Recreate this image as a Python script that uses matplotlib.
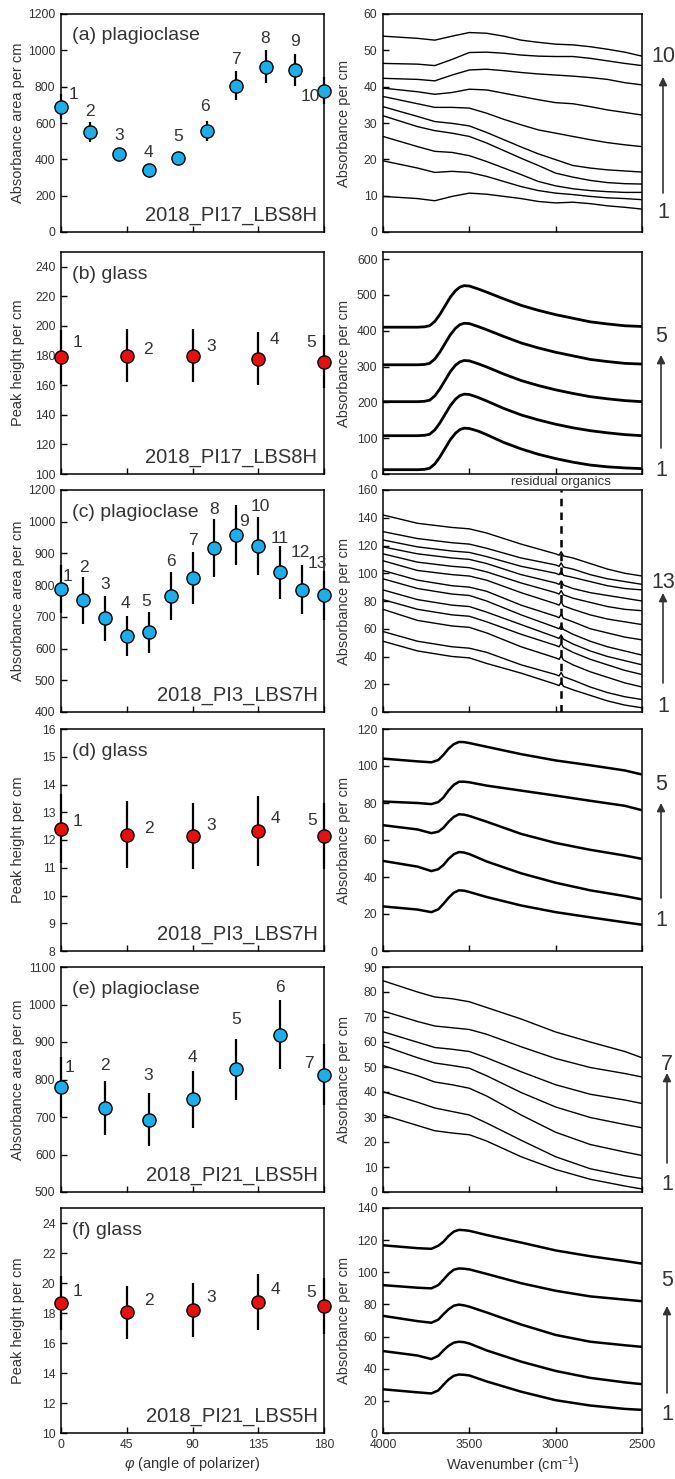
import matplotlib
matplotlib.use('Agg')
import matplotlib.pyplot as plt

plt.rcParams['font.family'] = ['Liberation Sans', 'DejaVu Sans']
plt.rcParams['mathtext.fontset'] = 'custom'
plt.rcParams['mathtext.rm'] = 'Liberation Sans'
plt.rcParams['mathtext.it'] = 'Liberation Sans:italic'

# ---------------- left panels data ----------------
a_phi = [0, 20, 40, 60, 80, 100, 120, 140, 160, 180]
a_area = [690, 548, 430, 339, 410, 557, 804, 911, 892, 777]
a_err = [70, 55, 30, 20, 25, 55, 80, 90, 90, 75]

b_phi = [0, 45, 90, 135, 180]
b_peak = [179, 180, 180, 178, 176]
b_err = [18, 18, 18, 18, 18]

c_phi = [0, 15, 30, 45, 60, 75, 90, 105, 120, 135, 150, 165, 180]
c_area = [788, 752, 695, 641, 651, 765, 823, 917, 959, 924, 841, 786, 768]
c_err = [77, 75, 70, 63, 65, 75, 82, 90, 95, 92, 84, 78, 77]

d_phi = [0, 45, 90, 135, 180]
d_peak = [12.41, 12.19, 12.15, 12.33, 12.15]
d_err = [1.25, 1.2, 1.2, 1.25, 1.2]

e_phi = [0, 30, 60, 90, 120, 150, 180]
e_area = [780, 723, 693, 747, 827, 920, 813]
e_err = [81, 72, 70, 76, 81, 92, 81]

f_phi = [0, 45, 90, 135, 180]
f_peak = [18.68, 18.04, 18.2, 18.75, 18.46]
f_err = [1.8, 1.75, 1.8, 1.85, 1.85]

phi_ticks = [0, 45, 90, 135, 180]
c_yticks = [400, 500, 600, 700, 800, 900, 1000, 1100]
c_yticklabels = ['400', '500', '600', '700', '800', '900', '1000', '1200']

# ---------------- right panels data (spectra) ----------------
a_wn = [4000, 3800, 3700, 3600, 3500, 3400, 3300, 3200, 3100, 3000, 2900, 2800, 2700, 2600, 2500]
a_spectra = [
    [9.8, 9.2, 8.6, 9.8, 10.7, 10.4, 9.8, 9.2, 8.4, 8.0, 8.2, 7.8, 7.2, 6.8, 6.3],
    [19.6, 17.6, 16.4, 16.7, 16.4, 15.3, 13.9, 12.5, 11.4, 10.7, 10.3, 9.8, 9.4, 9.2, 8.9],
    [26.3, 23.5, 22.2, 21.9, 21.0, 19.4, 17.6, 15.8, 13.9, 12.7, 11.9, 11.4, 11.1, 10.9, 10.9],
    [32.0, 29.0, 27.9, 27.2, 26.3, 24.5, 22.4, 20.3, 18.3, 16.2, 15.1, 14.2, 13.6, 13.3, 13.2],
    [34.5, 31.8, 30.4, 29.9, 29.2, 27.4, 25.4, 23.4, 21.5, 19.9, 18.3, 17.6, 17.1, 16.8, 16.5],
    [37.3, 35.3, 34.3, 34.3, 34.1, 32.7, 31.0, 29.5, 28.1, 27.2, 26.3, 25.4, 24.6, 24.0, 23.5],
    [39.6, 38.6, 37.9, 38.4, 39.3, 39.1, 38.2, 37.3, 36.4, 35.6, 35.3, 34.5, 33.6, 32.9, 32.2],
    [42.3, 42.0, 41.6, 43.2, 44.6, 44.8, 44.4, 43.9, 43.5, 43.2, 42.9, 42.5, 42.0, 41.1, 40.5],
    [46.4, 46.2, 45.8, 47.5, 49.4, 49.5, 49.2, 48.7, 48.4, 48.3, 48.3, 47.8, 47.1, 46.4, 45.8],
    [53.9, 53.3, 52.8, 53.9, 54.9, 54.7, 53.9, 52.8, 52.2, 51.7, 51.5, 51.0, 50.3, 49.5, 48.4],
]

b_wn = [4000, 3800, 3760, 3730, 3700, 3670, 3640, 3610, 3580, 3555, 3530, 3500, 3450, 3400,
        3300, 3200, 3100, 3000, 2900, 2800, 2700, 2600, 2500]
b_spectra = [
    [12, 12, 13, 16, 28, 48, 72, 96, 114, 124, 128, 127, 120, 110, 88, 70, 55, 43, 33, 25, 20, 17, 15],
    [107, 107, 108, 111, 123, 143, 167, 191, 209, 219, 223, 222, 214, 204, 183, 165, 151, 139, 129, 121, 115, 110, 107],
    [202, 202, 203, 206, 218, 238, 262, 286, 304, 313, 317, 316, 308, 299, 279, 261, 247, 235, 225, 216, 210, 205, 202],
    [305, 305, 306, 309, 321, 341, 365, 389, 407, 417, 421, 420, 412, 403, 384, 366, 352, 340, 330, 320, 314, 309, 307],
    [410, 410, 411, 414, 426, 446, 470, 494, 512, 522, 526, 525, 517, 508, 489, 471, 457, 445, 435, 425, 419, 414, 412],
]

c_wn = [4000, 3800, 3600, 3500, 3400, 3200, 3000, 2980, 2968, 2955, 2900, 2800, 2700, 2600, 2500]
c_spectra = [
    [51, 44, 40, 39, 35, 28, 20, 19, 21.5, 18.5, 16, 12, 8, 5, 3],
    [58, 51, 47, 46, 43, 34, 27, 26, 28.5, 25.5, 23, 18, 14, 11, 9],
    [74, 66, 62, 61, 57, 47, 39, 38, 40.5, 37.5, 34, 29, 25, 21, 18],
    [81, 74, 70, 69, 65, 56, 48, 47, 49.5, 46.5, 43, 38, 34, 30, 27],
    [88, 81, 77, 76, 72, 63, 54, 53, 55.5, 52.5, 49, 44, 40, 37, 34],
    [96, 89, 85, 84, 80, 70, 61, 60, 62.5, 59.5, 56, 51, 47, 44, 41],
    [102, 95, 91, 90, 87, 77, 69, 68, 70.5, 67.5, 65, 60, 57, 54, 52],
    [109, 102, 99, 98, 95, 86, 78, 77, 79.5, 76.5, 74, 70, 67, 65, 63],
    [114, 108, 105, 104, 101, 93, 86, 85, 87.5, 84.5, 82, 79, 76, 74, 73],
    [119, 114, 111, 110, 107, 99, 93, 92, 94.5, 91.5, 89, 86, 84, 82, 80],
    [124, 119, 116, 115, 112, 105, 100, 99, 101.5, 98.5, 97, 94, 91, 89, 88],
    [130, 125, 122, 121, 118, 111, 106, 105, 107.5, 104.5, 103, 99, 96, 94, 92],
    [142, 136, 133, 132, 129, 121, 114, 113, 115.5, 112.5, 111, 107, 103, 100, 98],
]
organics_wn = 2968

d_wn = [4000, 3800, 3720, 3680, 3650, 3620, 3590, 3560, 3530, 3500, 3400, 3200, 3000, 2800, 2600, 2500]
d_spectra = [
    [24.1, 22.4, 21.0, 22.5, 25.5, 28.8, 31.5, 32.8, 32.6, 31.9, 29.2, 24.6, 21.0, 18.2, 15.5, 14.2],
    [48.7, 45.6, 43.2, 44.2, 46.5, 49.8, 52.3, 53.5, 53.2, 52.4, 48.4, 42.0, 36.9, 32.8, 29.7, 27.9],
    [68.0, 65.7, 63.7, 64.5, 66.6, 69.9, 72.5, 73.9, 73.7, 73.0, 69.9, 63.3, 58.4, 54.7, 51.6, 49.8],
    [80.8, 80.0, 79.4, 80.5, 83.0, 86.8, 89.8, 91.5, 91.5, 91.2, 89.4, 86.7, 84.0, 81.2, 78.5, 76.1],
    [104.0, 102.5, 102.0, 103.2, 106.0, 109.4, 111.8, 113.0, 112.9, 112.4, 110.4, 106.4, 103.0, 100.4, 97.6, 95.4],
]

e_wn = [4000, 3800, 3700, 3600, 3500, 3400, 3200, 3000, 2800, 2600, 2500]
e_spectra = [
    [30.8, 26.6, 24.5, 23.6, 22.9, 20.4, 14.1, 9.0, 5.1, 2.4, 1.2],
    [40.1, 35.9, 33.6, 32.2, 30.8, 27.6, 20.7, 14.1, 9.3, 6.5, 5.4],
    [50.6, 46.5, 44.0, 42.9, 41.5, 38.4, 30.8, 23.9, 19.0, 16.0, 14.6],
    [58.5, 53.7, 51.6, 50.6, 49.5, 46.5, 39.8, 34.0, 29.8, 27.0, 25.7],
    [64.1, 59.9, 57.8, 57.1, 56.2, 53.7, 48.1, 42.9, 39.1, 36.8, 35.4],
    [72.4, 68.2, 66.4, 65.7, 65.0, 63.1, 58.1, 53.4, 49.8, 47.4, 46.0],
    [84.5, 80.0, 78.0, 77.3, 76.1, 73.8, 69.2, 64.0, 60.0, 56.2, 53.7],
]

f_wn = [4000, 3800, 3720, 3680, 3650, 3620, 3590, 3560, 3530, 3500, 3400, 3200, 3000, 2800, 2600, 2500]
f_spectra = [
    [27.2, 25.3, 24.6, 26.5, 30.0, 33.3, 35.6, 36.4, 36.2, 35.8, 32.1, 25.7, 20.4, 17.1, 15.0, 14.4],
    [51.0, 48.2, 46.0, 48.0, 51.4, 54.3, 56.2, 56.8, 56.5, 55.7, 51.4, 44.4, 38.6, 34.3, 31.5, 30.4],
    [72.9, 69.6, 68.6, 70.5, 73.9, 77.0, 79.2, 79.9, 79.4, 78.6, 75.0, 67.5, 61.0, 56.8, 54.6, 53.6],
    [92.0, 90.4, 90.0, 92.0, 95.4, 99.0, 101.6, 102.4, 102.2, 101.8, 99.0, 93.2, 88.5, 85.0, 83.0, 82.0],
    [116.8, 115.0, 114.6, 116.5, 119.0, 122.6, 125.3, 126.4, 126.2, 125.8, 123.2, 118.5, 113.6, 110.0, 107.0, 105.4],
]
wn_ticks = [4000, 3500, 3000, 2500]

# ---------------- figure ----------------
W, H = 675, 1479
fig = plt.figure(figsize=(W / 100, H / 100), dpi=100)

rows = [(14, 232), (252, 474), (490, 712), (729, 951), (967, 1192), (1208, 1433)]
LX = (61, 324)
RX = (383, 642)
TXT = '#333333'
BLUE = '#1AAFE8'
RED = '#E8100E'


def axpos(xr, yr):
    return [xr[0] / W, 1 - yr[1] / H, (xr[1] - xr[0]) / W, (yr[1] - yr[0]) / H]


def style(ax):
    for s in ax.spines.values():
        s.set_linewidth(1.1)
        s.set_color('black')
    ax.tick_params(direction='in', length=4, width=1, labelsize=8.7, labelcolor=TXT,
                   top=False, right=False, pad=4)


def left_panel(ax, phi, val, err, color, ylim, yticks, ylabel, title, sample,
               offsets, yticklabels=None, bottom=False):
    style(ax)
    eb = ax.errorbar(phi, val, yerr=err, fmt='none', ecolor='black', elinewidth=1.6,
                     capsize=0, zorder=2)
    for art in eb.lines[2]:
        art.set_clip_on(False)
    ax.plot(phi, val, 'o', ms=9.5, mfc=color, mec='black', mew=1.0, clip_on=False, zorder=3)
    for i, (x, y) in enumerate(zip(phi, val)):
        ax.annotate(str(i + 1), (x, y), xytext=offsets[i], textcoords='offset pixels',
                    ha='center', va='center', fontsize=12.5, color=TXT, annotation_clip=False)
    ax.set_xlim(0, 180)
    ax.set_ylim(*ylim)
    ax.set_xticks(phi_ticks)
    ax.set_yticks(yticks)
    if yticklabels is not None:
        ax.set_yticklabels(yticklabels)
    if not bottom:
        ax.set_xticklabels([])
    else:
        ax.set_xlabel(r'$\varphi$ (angle of polarizer)', fontsize=10.5, color=TXT, labelpad=3)
    ax.set_ylabel(ylabel, fontsize=10.5, color=TXT)
    ax.yaxis.set_label_coords(-0.135, 0.5)
    ax.text(0.043, 0.9, title, transform=ax.transAxes, fontsize=14, color=TXT,
            ha='left', va='center')
    ax.text(0.975, 0.075, sample, transform=ax.transAxes, fontsize=14.5, color=TXT,
            ha='right', va='center')


def right_panel(ax, wn, spectra, ylim, yticks, lw, top_num, marks, bottom=False):
    style(ax)
    for s in spectra:
        ax.plot(wn, s, color='black', lw=lw, solid_joinstyle='round', solid_capstyle='butt')
    ax.set_xlim(4000, 2500)
    ax.set_ylim(*ylim)
    ax.set_xticks(wn_ticks)
    ax.set_yticks(yticks)
    if not bottom:
        ax.set_xticklabels([])
    else:
        ax.set_xlabel('Wavenumber (cm$^{-1}$)', fontsize=10.5, color=TXT, labelpad=3)
    ax.set_ylabel('Absorbance per cm', fontsize=10.5, color=TXT)
    ax.yaxis.set_label_coords(-0.125, 0.5)
    xn, ytop, ytip, ytail, ybot = marks
    fig.text(xn / W, 1 - ytop / H, top_num, fontsize=15.5, color=TXT, ha='center', va='center')
    fig.text(xn / W, 1 - ybot / H, '1', fontsize=15.5, color=TXT, ha='center', va='center')
    ax.annotate('', xy=(xn, H - ytip), xytext=(xn, H - ytail), xycoords='figure pixels',
                textcoords='figure pixels', annotation_clip=False,
                arrowprops=dict(arrowstyle='-|>', color=TXT, lw=1.2, mutation_scale=12,
                                shrinkA=0, shrinkB=0))


# left column
offs_a = [(12, 12), (0, 21), (0, 18), (0, 18), (0, 21), (-2, 24), (0, 26), (0, 28), (0, 28), (-14, -6)]
offs_b = [(17, 15), (21, 6), (19, 9), (16, 19), (-13, 19)]
offs_c = [(6, 12), (1, 33), (0, 34), (-1, 32), (-2, 31), (0, 35), (0, 37), (0, 39), (8, 13),
          (2, 39), (0, 34), (-2, 37), (-7, 32)]
offs_d = [(17, 7), (22, 6), (19, 10), (17, 12), (-12, 15)]
offs_e = [(9, 20), (0, 43), (0, 44), (0, 42), (0, 50), (0, 47), (-15, 11)]
offs_f = [(16, 11), (22, 12), (19, 13), (17, 12), (-13, 14)]

ax = fig.add_axes(axpos(LX, rows[0]))
left_panel(ax, a_phi, a_area, a_err, BLUE, (0, 1200), range(0, 1201, 200),
           'Absorbance area per cm', '(a) plagioclase', '2018_PI17_LBS8H', offs_a)
ax = fig.add_axes(axpos(LX, rows[1]))
left_panel(ax, b_phi, b_peak, b_err, RED, (100, 250), range(100, 241, 20),
           'Peak height per cm', '(b) glass', '2018_PI17_LBS8H', offs_b)
ax = fig.add_axes(axpos(LX, rows[2]))
left_panel(ax, c_phi, c_area, c_err, BLUE, (400, 1100), c_yticks,
           'Absorbance area per cm', '(c) plagioclase', '2018_PI3_LBS7H', offs_c,
           yticklabels=c_yticklabels)
ax = fig.add_axes(axpos(LX, rows[3]))
left_panel(ax, d_phi, d_peak, d_err, RED, (8, 16), range(8, 17),
           'Peak height per cm', '(d) glass', '2018_PI3_LBS7H', offs_d)
ax = fig.add_axes(axpos(LX, rows[4]))
left_panel(ax, e_phi, e_area, e_err, BLUE, (500, 1100), range(500, 1101, 100),
           'Absorbance area per cm', '(e) plagioclase', '2018_PI21_LBS5H', offs_e)
ax = fig.add_axes(axpos(LX, rows[5]))
left_panel(ax, f_phi, f_peak, f_err, RED, (10, 25), range(10, 25, 2),
           'Peak height per cm', '(f) glass', '2018_PI21_LBS5H', offs_f, bottom=True)

# right column
ax = fig.add_axes(axpos(RX, rows[0]))
right_panel(ax, a_wn, a_spectra, (0, 60), range(0, 61, 10), 1.0, '10', (663, 57, 77, 193, 213))
ax = fig.add_axes(axpos(RX, rows[1]))
right_panel(ax, b_wn, b_spectra, (0, 620), range(0, 601, 100), 2.0, '5', (661, 336, 355, 448, 470))
ax = fig.add_axes(axpos(RX, rows[2]))
right_panel(ax, c_wn, c_spectra, (0, 160), range(0, 161, 20), 1.0, '13', (663, 583, 593, 683, 706))
ax.axvline(organics_wn, color='black', lw=1.8, ls=(0, (3, 2.5)), zorder=3)
ax.text(organics_wn, 1.01, 'residual organics', transform=ax.get_xaxis_transform(),
        ha='center', va='bottom', fontsize=9.5, color=TXT)
ax = fig.add_axes(axpos(RX, rows[3]))
right_panel(ax, d_wn, d_spectra, (0, 120), range(0, 121, 20), 1.8, '5', (661, 785, 803, 898, 920))
ax = fig.add_axes(axpos(RX, rows[4]))
right_panel(ax, e_wn, e_spectra, (0, 90), range(0, 91, 10), 1.0, '7', (667, 1065, 1073, 1163, 1184))
ax = fig.add_axes(axpos(RX, rows[5]))
right_panel(ax, f_wn, f_spectra, (0, 140), range(0, 141, 20), 1.8, '5', (667, 1281, 1306, 1393, 1415),
            bottom=True)

fig.savefig('out.png', dpi=100)
